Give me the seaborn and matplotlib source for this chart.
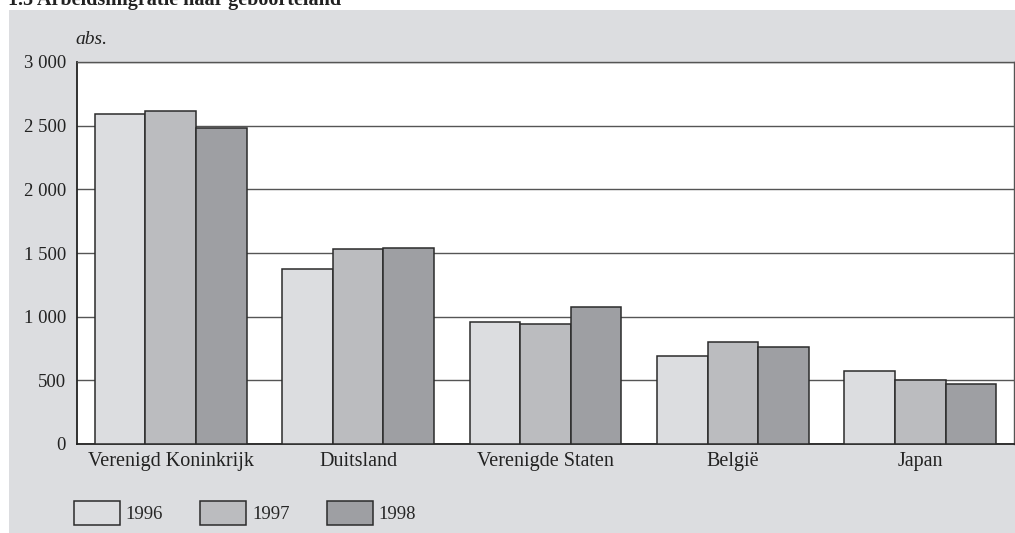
import pandas as pd
import seaborn as sns
import matplotlib.pyplot as plt
from matplotlib.patches import Rectangle
from matplotlib.ticker import FuncFormatter

countries = ["Verenigd Koninkrijk", "Duitsland", "Verenigde Staten", "België", "Japan"]
years = ["1996", "1997", "1998"]
v1996 = [2590, 1375, 955, 690, 570]
v1997 = [2615, 1530, 945, 800, 505]
v1998 = [2480, 1540, 1075, 760, 470]
colors = ["#dcdde0", "#bbbcbf", "#9e9fa3"]

title = "1.5 Arbeidsmigratie naar geboorteland"


def main():
    df = pd.DataFrame({"land": countries, "1996": v1996, "1997": v1997, "1998": v1998})
    df = df.melt(id_vars="land", var_name="jaar", value_name="aantal")

    sns.set_style("white")
    plt.rcParams["font.family"] = ["Liberation Serif", "DejaVu Serif"]

    fig = plt.figure(figsize=(10.15, 5.33), dpi=100, facecolor="white")
    # grey panel behind the chart
    fig.patches.append(Rectangle((9 / 1015, 0), 1, 1 - 10 / 533, transform=fig.transFigure,
                                 facecolor="#dcdde0", edgecolor="none", zorder=-1))

    ax = fig.add_axes([77 / 1015, 1 - 444 / 533, 937 / 1015, 382 / 533])
    ax.set_facecolor("white")

    sns.barplot(data=df, x="land", y="aantal", hue="jaar", hue_order=years,
                order=countries, palette=colors, width=0.81, gap=0,
                edgecolor="#2b2b2b", linewidth=1.1, saturation=1, ax=ax, zorder=3)

    ax.set_ylim(0, 3000)
    ax.set_xlim(-0.5, len(countries) - 0.5)
    ax.set_yticks(range(0, 3001, 500))
    ax.yaxis.set_major_formatter(FuncFormatter(lambda v, p: f"{int(v):,}".replace(",", " ")))
    ax.grid(axis="y", color="#555555", linewidth=1.0, zorder=0)
    ax.set_axisbelow(True)
    ax.set_xlabel("")
    ax.set_ylabel("")
    ax.tick_params(axis="y", length=0, pad=8, labelsize=13.5, colors="#222222")
    ax.tick_params(axis="x", length=0, pad=5.5, labelsize=14.5, colors="#222222")

    for side in ["left", "bottom"]:
        ax.spines[side].set_color("#222222")
        ax.spines[side].set_linewidth(1.3)
    for side in ["top", "right"]:
        ax.spines[side].set_color("#555555")
        ax.spines[side].set_linewidth(1.0)

    handles, labels = ax.get_legend_handles_labels()
    ax.get_legend().remove()
    fig.legend(handles, labels, loc="upper left", bbox_to_anchor=(74 / 1015, 1 - 501 / 533),
               ncol=3, frameon=False, fontsize=13.5, handlelength=2.45, handleheight=1.6,
               handletextpad=0.3, columnspacing=2.0, borderpad=0, borderaxespad=0)

    fig.text(75 / 1015, 1 - 40 / 533, "abs.", style="italic", va="center", fontsize=14, color="#222222")
    fig.text(8 / 1015, 1 - 5 / 533, title, va="baseline", fontweight="bold", fontsize=14.5, color="#222222")

    fig.savefig("out.png", dpi=100, facecolor="white")
    plt.close(fig)


if __name__ == "__main__":
    main()
